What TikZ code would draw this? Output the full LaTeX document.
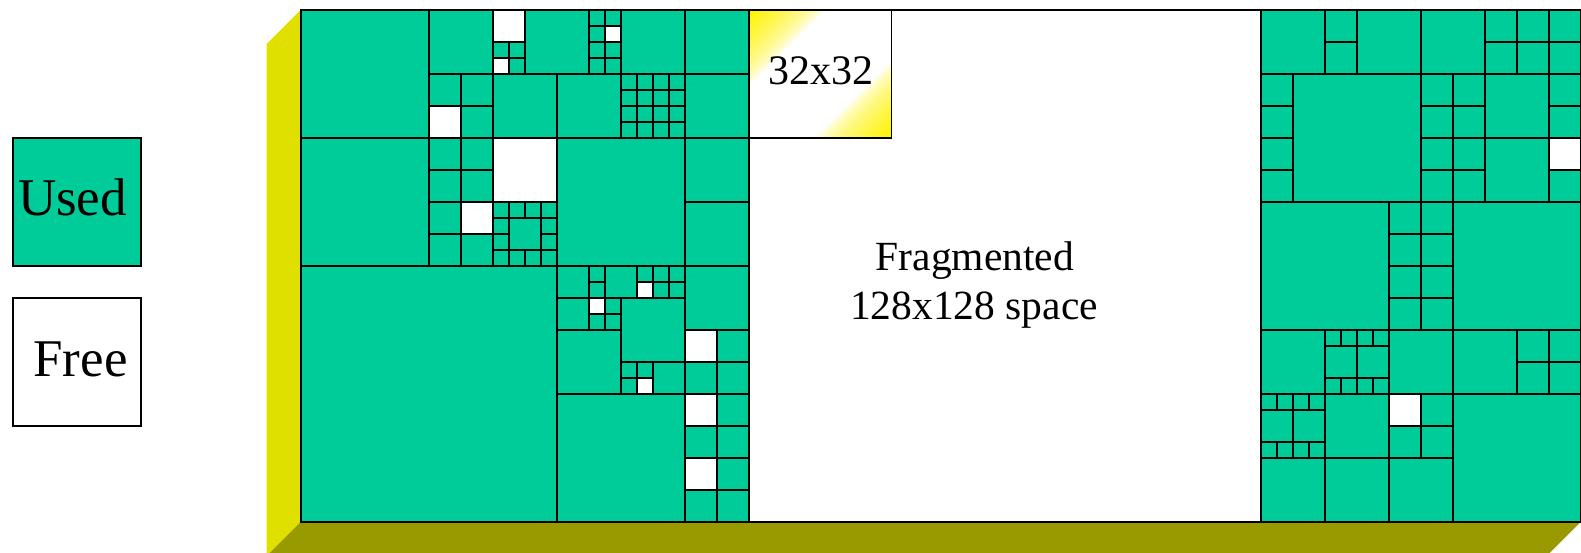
\documentclass[tikz,border=0pt]{standalone}
\usepackage{fontspec}
\setmainfont{Liberation Serif}
\definecolor{used}{RGB}{0,204,153}
\definecolor{sideY}{RGB}{224,224,0}
\definecolor{baseY}{RGB}{153,153,0}
\begin{document}
\begin{tikzpicture}[x=1pt,y=-1pt,line width=1.9pt,
  usedcell/.style={fill=used,draw=black},
  freecell/.style={fill=white,draw=black},
  lbl/.style={inner sep=0pt,anchor=base,text=black}]
\useasboundingbox (0,0) rectangle (1581,552);
\clip (0,0) rectangle (1581,552);
% 3D faces
\fill[sideY] (300.7,10) -- (266.7,44) -- (266.7,556) -- (300.7,522) -- cycle;
\fill[baseY] (300.7,522) -- (1580.7,522) -- (1546.7,556) -- (266.7,556) -- cycle;
% legend
\draw[usedcell] (12.7,138.3) rectangle (140.7,265.7);
\draw[freecell] (12.7,297.7) rectangle (140.7,425.7);
\node[lbl] (used) at (72.5,215.7) {\fontsize{53}{60}\selectfont Used};
\node[lbl] (free) at (80.6,376) {\fontsize{53}{60}\selectfont Free};
% main area
\fill[white] (300.7,10) rectangle (1580.7,522);
\begin{scope}[shift={(300.7,10)},x=16pt,y=-16pt]
  \foreach \c/\r/\s in {0/0/8, 8/0/4, 12/2/1, 13/2/1, 13/3/1, 14/0/4, 18/0/1, 19/0/1, 18/1/1, 18/2/1, 19/2/1, 18/3/1, 19/3/1, 20/0/4, 24/0/4,
    8/4/2, 10/4/2, 10/6/2, 12/4/4, 16/4/4, 24/4/4,
    0/8/8, 8/8/2, 10/8/2, 8/10/2, 10/10/2, 8/12/2, 8/14/2, 10/14/2,
    12/12/1, 13/12/1, 14/12/1, 15/12/1, 12/13/1, 15/13/1, 12/14/1, 15/14/1, 12/15/1, 13/15/1, 14/15/1, 15/15/1, 13/13/2,
    16/8/8, 24/8/4, 24/12/4,
    0/16/16, 16/16/2, 18/16/1, 18/17/1, 19/16/2, 21/16/1, 22/16/1, 23/16/1, 22/17/1, 23/17/1,
    16/18/2, 19/18/1, 18/19/1, 19/19/1, 20/18/4, 16/20/4, 20/22/1, 21/22/1, 20/23/1, 22/22/2, 16/24/8,
    24/16/4, 26/20/2, 24/22/2, 26/22/2, 26/24/2, 24/26/2, 26/26/2, 26/28/2, 24/30/2, 26/30/2,
    60/0/4, 64/0/2, 64/2/2, 66/0/4, 70/0/4, 74/0/2, 76/0/2, 78/0/2, 74/2/2, 76/2/2, 78/2/2,
    60/4/2, 60/6/2, 60/8/2, 60/10/2, 62/4/8, 70/4/2, 72/4/2, 70/6/2, 72/6/2, 70/8/2, 72/8/2, 70/10/2, 72/10/2, 74/4/4, 74/8/4, 78/4/2, 78/6/2, 78/10/2,
    60/12/8, 68/12/2, 70/12/2, 68/14/2, 70/14/2, 68/16/2, 70/16/2, 68/18/2, 70/18/2, 72/12/8,
    60/20/4, 64/20/1, 65/20/1, 66/20/1, 67/20/1, 64/21/2, 66/21/2, 64/23/1, 65/23/1, 66/23/1, 67/23/1, 68/20/4, 72/20/4, 76/20/2, 78/20/2, 76/22/2, 78/22/2,
    60/24/1, 61/24/1, 62/24/1, 63/24/1, 60/25/2, 62/25/2, 60/27/1, 61/27/1, 62/27/1, 63/27/1, 64/24/4, 70/24/2, 68/26/2, 70/26/2, 72/24/8,
    60/28/4, 64/28/4, 68/28/4}
    {\draw[usedcell] (\c,\r) rectangle ++(\s,\s);}
  \foreach \i in {20,...,23}
    \foreach \j in {4,...,7}
      {\draw[usedcell] (\i,\j) rectangle ++(1,1);}
  \foreach \c/\r/\s in {12/0/2, 12/3/1, 19/1/1, 8/6/2, 10/12/2, 12/8/4, 21/17/1, 18/18/1, 21/23/1, 24/20/2, 24/24/2, 24/28/2, 78/8/2, 68/24/2}
    {\draw[freecell] (\c,\r) rectangle ++(\s,\s);}
  \draw (0,0) rectangle (80,32);
\end{scope}
% 32x32 block: diagonal yellow-white-yellow gradient built from strips
\begin{scope}
  \clip (748.7,10) rectangle (891.5,137.7);
  \foreach \i in {0,...,35}{
    \pgfmathsetmacro\pa{2.1*\i}
    \pgfmathsetmacro\pb{2.1*\i+2.7}
    \pgfmathsetmacro\f{100*(1-(\i+0.5)/36)^0.6}
    \fill[yellow!\f!white] (748.7+\pa,10) -- (748.7+\pb,10) -- (448.7+\pb,310) -- (448.7+\pa,310) -- cycle;
    \pgfmathsetmacro\qa{270.5-2.1*\i}
    \pgfmathsetmacro\qb{270.5-2.1*\i-2.7}
    \fill[yellow!\f!white] (748.7+\qa,10) -- (748.7+\qb,10) -- (448.7+\qb,310) -- (448.7+\qa,310) -- cycle;
  }
\end{scope}
\draw (748.7,10) rectangle (891.5,137.7);
\node[lbl] (blk) at (821,84) {\fontsize{42}{48}\selectfont 32x32};
\node[lbl] (frag) at (975,270) {\fontsize{41.5}{48}\selectfont Fragmented};
\node[lbl] (space) at (974,319) {\fontsize{41.5}{48}\selectfont 128x128 space};
\end{tikzpicture}
\end{document}
